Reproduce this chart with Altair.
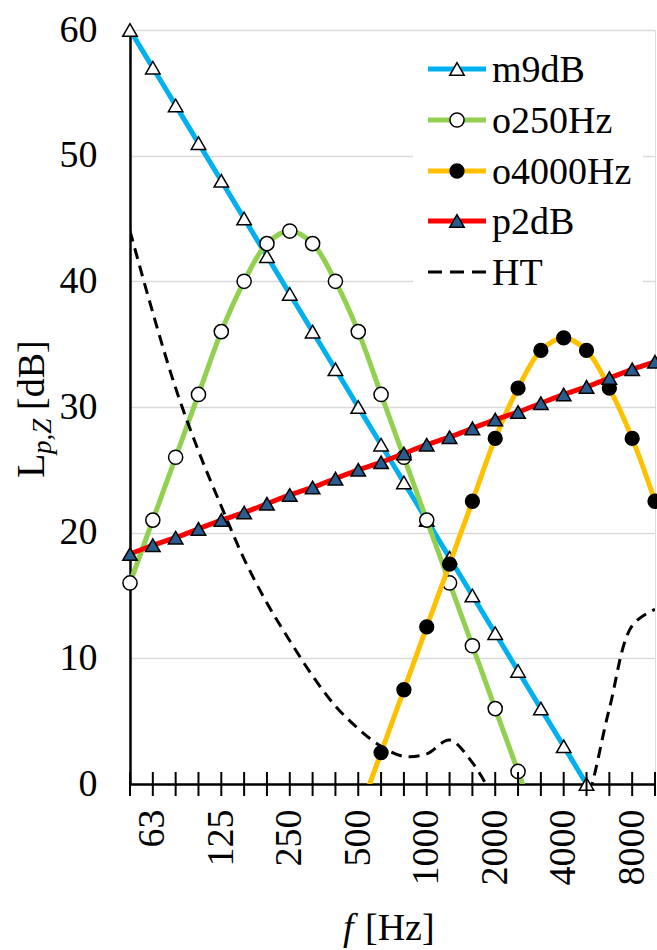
import json
import altair as alt
import pandas as pd

# ---------------- data ----------------
freqs = ["50", "63", "80", "100", "125", "160", "200", "250", "315", "400", "500", "630",
         "800", "1000", "1250", "1600", "2000", "2500", "3150", "4000", "5000", "6300", "8000", "10000"]
tick_labels = ["63", "125", "250", "500", "1000", "2000", "4000", "8000"]
y_ticks = [0, 10, 20, 30, 40, 50, 60]

m9dB = [60, 57, 54, 51, 48, 45, 42, 39, 36, 33, 30, 27, 24, 21, 18, 15, 12, 9, 6, 3, 0,
        None, None, None]
o250Hz = [16, 21, 26, 31, 36, 40, 43, 44, 43, 40, 36, 31, 26, 21, 16, 11, 6, 1, -4,
          None, None, None, None, None]
o4000Hz = [None, None, None, None, None, None, None, None, None, None,
           -2.5, 2.5, 7.5, 12.5, 17.5, 22.5, 27.5, 31.5, 34.5, 35.5, 34.5, 31.5, 27.5, 22.5]
p2dB = [18.3, 19.0, 19.6, 20.3, 21.0, 21.6, 22.3, 23.0, 23.6, 24.3, 25.0, 25.6,
        26.3, 27.0, 27.6, 28.3, 29.0, 29.6, 30.3, 31.0, 31.6, 32.3, 33.0, 33.6]
HT = [44.0, 37.5, 31.5, 26.5, 22.1, 17.9, 14.4, 11.4, 8.6, 6.2, 4.4, 3.0,
      2.2, 2.4, 3.5, 1.7, -1.3, -4.2, -6.0, -5.4, -1.5, 6.0, 12.6, 13.9]

series_names = ["m9dB", "o250Hz", "o4000Hz", "p2dB", "HT"]
series_values = [m9dB, o250Hz, o4000Hz, p2dB, HT]

# ---------------- styles ----------------
FONT = "'Liberation Serif', 'Times New Roman', Times, 'DejaVu Serif', serif"
W, H = 525, 754
styles = {
    "m9dB": dict(color="#00B0F0", shape="triangle-up", fill="white", size=210),
    "o250Hz": dict(color="#92D050", shape="circle", fill="white", size=200),
    "o4000Hz": dict(color="#FFC000", shape="circle", fill="black", size=190),
    "p2dB": dict(color="#FF0000", shape="triangle-up", fill="#2A5D8F", size=210),
    "HT": dict(color="black", shape=None, fill=None, size=None),
}

rows = []
for name, vals in zip(series_names, series_values):
    for i, v in enumerate(vals):
        if v is not None:
            rows.append({"s": name, "i": i, "f": freqs[i], "v": v})
df = pd.DataFrame(rows)

label_idx = [freqs.index(t) for t in tick_labels]
fj = json.dumps(freqs)
label_expr = f"{fj}[datum.value]"

x_enc = alt.X(
    "i:Q",
    scale=alt.Scale(domain=[0, len(freqs) - 1], nice=False, zero=False),
    axis=alt.Axis(
        values=label_idx, labelExpr=label_expr, labelAngle=270,
        labelAlign="right", labelBaseline="middle", labelFontSize=38, labelFont=FONT,
        labelColor="black", ticks=False, tickSize=12,
        domainColor="black", domainWidth=2.5, labelPadding=25, grid=False, title=None,
        labelOverlap=False,
    ),
)
y_enc = alt.Y(
    "v:Q",
    scale=alt.Scale(domain=[0, 60], nice=False, zero=False),
    axis=alt.Axis(
        values=y_ticks, grid=True, gridColor="#D9D9D9", gridWidth=1.5, ticks=False,
        tickSize=0, labelPadding=33, labelFontSize=38, labelFont=FONT, labelColor="black",
        domainColor="black", domainWidth=2.5, title=None,
    ),
)

layers = []
for name in series_names:
    st = styles[name]
    base = alt.Chart(df).transform_filter(alt.datum.s == name)
    if name == "HT":
        line = base.mark_line(color="black", strokeWidth=3, strokeDash=[11, 7],
                              interpolate="catmull-rom", clip=True)
    else:
        line = base.mark_line(color=st["color"], strokeWidth=5,
                              interpolate="catmull-rom", clip=True)
    layers.append(line.encode(x=x_enc, y=y_enc, order=alt.Order("i:Q")))
    if st["shape"]:
        pts = base.transform_filter(alt.datum.v >= 0).mark_point(
            shape=st["shape"], filled=True, fill=st["fill"], stroke="black",
            strokeWidth=1.5, size=st["size"], opacity=1)
        layers.append(pts.encode(x=x_enc, y=y_enc))

# crossing x ticks at every third-octave band
tick_df = pd.DataFrame({"i": list(range(len(freqs)))})
layers.append(alt.Chart(tick_df).mark_rule(color="black", strokeWidth=2).encode(
    x=alt.X("i:Q"), y=alt.value(H - 12), y2=alt.value(H + 12)))

# legend
leg_box = alt.Chart(pd.DataFrame({"s": ["box"]})).mark_rect(fill="white").encode(
    x=alt.value(283), x2=alt.value(513), y=alt.value(12), y2=alt.value(266))
layers.append(leg_box)
row_y = [39, 90, 141, 191, 242]
for name, yy in zip(series_names, row_y):
    st = styles[name]
    ldf = pd.DataFrame({"s": [name]})
    if name == "HT":
        r = alt.Chart(ldf).mark_rule(color="black", strokeWidth=3, strokeDash=[14, 8])
    else:
        r = alt.Chart(ldf).mark_rule(color=st["color"], strokeWidth=5)
    layers.append(r.encode(x=alt.value(298), x2=alt.value(356), y=alt.value(yy)))
    if st["shape"]:
        layers.append(alt.Chart(ldf).mark_point(
            shape=st["shape"], filled=True, fill=st["fill"], stroke="black",
            strokeWidth=1.5, size=st["size"], opacity=1).encode(
            x=alt.value(327), y=alt.value(yy)))
    layers.append(alt.Chart(ldf).mark_text(
        align="left", baseline="middle", fontSize=38, font=FONT, color="black").encode(
        x=alt.value(362), y=alt.value(yy + 2), text="s:N"))

# axis titles
def txt(s, x, y, size=38, style="normal", angle=0):
    kw = dict(align="left", baseline="alphabetic", fontSize=size, font=FONT,
              color="black", fontStyle=style)
    if angle:
        kw["angle"] = angle
    return alt.Chart(pd.DataFrame({"t": [s]})).mark_text(**kw).encode(
        x=alt.value(x), y=alt.value(y), text="t:N")

layers.append(txt("f", 213, 910, style="italic"))
layers.append(txt("[Hz]", 235, 910))
layers.append(txt("L", -86, 448, size=40, angle=270))
layers.append(txt("p,Z", -79, 424, size=27, style="italic", angle=270))
layers.append(txt("[dB]", -86, 380, angle=270))

chart = alt.layer(*layers).properties(
    width=W, height=H,
    padding={"left": 130, "top": 30, "right": 2, "bottom": 166},
    autosize=alt.AutoSizeParams(type="none"),
).configure_view(stroke="black", strokeWidth=2).configure(background="white", font=FONT)

chart.save("out.html", embed_options={"renderer": "svg", "actions": False})
